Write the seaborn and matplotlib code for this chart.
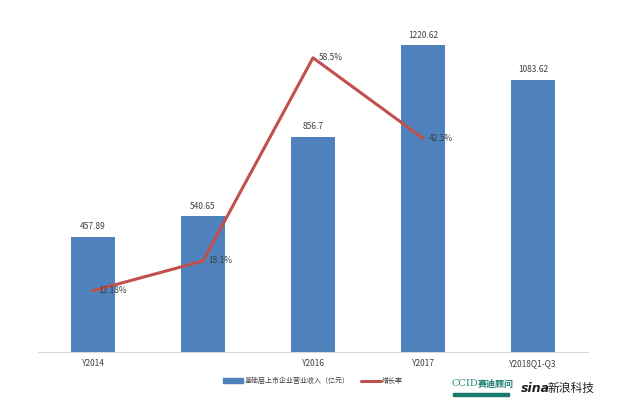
import matplotlib
matplotlib.use("Agg")
import matplotlib.pyplot as plt
import seaborn as sns
import pandas as pd
from matplotlib.patches import Patch
from matplotlib.lines import Line2D

categories = ["Y2014", "Y2015", "Y2016", "Y2017", "Y2018Q1-Q3"]
tick_labels = ["Y2014", "", "Y2016", "Y2017", "Y2018Q1-Q3"]
revenue = [457.89, 540.65, 856.7, 1220.62, 1083.62]
revenue_labels = ["457.89", "540.65", "856.7", "1220.62", "1083.62"]
growth = [12.18, 18.1, 58.5, 42.5]
growth_labels = ["12.18%", "18.1%", "58.5%", "42.5%"]
bar_name = "基础层上市企业营业收入（亿元）"
line_name = "增长率"

sns.set_theme(style="white")
plt.rcParams['font.family'] = ['Noto Sans CJK SC', 'DejaVu Sans']

BLUE = "#4F81BD"
RED = "#C0504D"

fig = plt.figure(figsize=(6.3, 4.17), dpi=100)
ax = fig.add_axes([38/630, 1 - 352/417, 550/630, 352/417])

df = pd.DataFrame({"cat": categories, "rev": revenue})
sns.barplot(data=df, x="cat", y="rev", color=BLUE, width=0.4, saturation=1,
            edgecolor=BLUE, linewidth=0, ax=ax)
ax.set_ylim(0, 1400)
ax.set_xlim(-0.5, 4.5)
ax.set_xlabel("")
ax.set_ylabel("")
ax.set_yticks([])
ax.set_xticks(range(len(categories)))
ax.set_xticklabels(tick_labels, fontsize=6, color="#404040")
ax.tick_params(axis="x", length=0, pad=5)
for s in ["top", "left", "right"]:
    ax.spines[s].set_visible(False)
ax.spines["bottom"].set_color("#D9D9D9")
ax.spines["bottom"].set_linewidth(0.8)

for i, (v, lab) in enumerate(zip(revenue, revenue_labels)):
    ax.text(i, v + 22, lab, ha="center", va="bottom", fontsize=6, color="#404040")

ax2 = ax.twinx()
ldf = pd.DataFrame({"x": list(range(len(growth))), "g": growth})
sns.lineplot(data=ldf, x="x", y="g", color=RED, linewidth=2.2, ax=ax2)
ax2.set_ylim(0, 70)
ax2.set_xlim(-0.5, 4.5)
ax2.set_yticks([])
ax2.set_ylabel("")
ax2.set_xlabel("")
for s in ["top", "left", "right", "bottom"]:
    ax2.spines[s].set_visible(False)
for i, (g, lab) in enumerate(zip(growth, growth_labels)):
    ax2.annotate(lab, (i, g), xytext=(4, 0), textcoords="offset points",
                 ha="left", va="center", fontsize=6, color="#404040")

handles = [Patch(facecolor=BLUE, edgecolor=BLUE), Line2D([0], [0], color=RED, lw=2.2)]
fig.legend(handles, [bar_name, line_name], loc="center", bbox_to_anchor=(313/630, 1 - 381/417),
           ncol=2, frameon=False, fontsize=5, handlelength=2.9, handleheight=0.6,
           columnspacing=1.6, handletextpad=0.2, labelcolor="#404040")

# logos (approximated as text)
fig.text(451/630, 1 - 384/417, "CCID", fontsize=7, color="#2a8a7a", va="center", ha="left",
         family="DejaVu Serif")
fig.text(478/630, 1 - 384/417, "赛迪顾问", fontsize=6.5, color="#1a7a6a", va="center", ha="left",
         fontweight="bold")
fig.patches.append(plt.Rectangle((453/630, 1 - 396/417), 56/630, 3/417, transform=fig.transFigure,
                                 color="#1a7a6a"))
fig.text(521/630, 1 - 388/417, "sina", fontsize=9, color="#222222", va="center", ha="left",
         fontweight="bold", fontstyle="italic", family="DejaVu Sans")
fig.text(548/630, 1 - 388/417, "新浪科技", fontsize=8.5, color="#222222", va="center", ha="left")

fig.savefig("out.png", dpi=100, facecolor="white")
